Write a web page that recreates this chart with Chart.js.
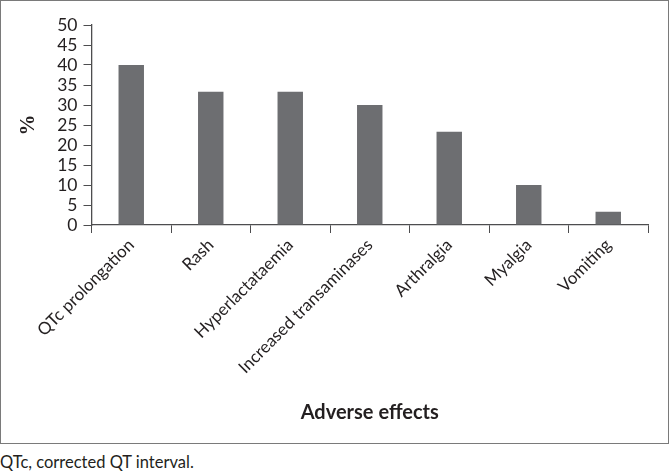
<!DOCTYPE html>
<html><head><meta charset="utf-8">
<script src="https://cdn.jsdelivr.net/npm/chart.js@4/dist/chart.umd.min.js"></script>
<style>
html,body{margin:0;padding:0;background:#fff;}
body{width:670px;height:472px;overflow:hidden;position:relative;}
#frame{position:absolute;left:0;top:0;width:667px;height:442px;border:1px solid #7a7a7a;}
#frame canvas{display:block;}
#note{position:absolute;left:0;top:452px;font:16.5px Lato, sans-serif;color:#231f20;white-space:nowrap;}
</style></head><body>
<div id="frame"><canvas id="c" width="667" height="442" style="width:667px;height:442px"></canvas></div>
<div id="note">QTc, corrected QT interval.</div>
<script>
const categories = ["QTc prolongation","Rash","Hyperlactataemia","Increased transaminases","Arthralgia","Myalgia","Vomiting"];
const percentages = [40, 33.3, 33.3, 30, 23.3, 10, 3.3];
const yTicks = [0,5,10,15,20,25,30,35,40,45,50];
const xTitle = "Adverse effects";
const yTitle = "%";

const ink = "#231f20";
const axisCol = "#4d4d4f";
new Chart(document.getElementById('c'), {
  type: 'bar',
  data: {
    labels: categories,
    datasets: [{
      data: percentages,
      backgroundColor: '#6d6e71',
      borderWidth: 0,
      barPercentage: 0.32,
      categoryPercentage: 1.0
    }]
  },
  options: {
    responsive: false,
    animation: false,
    devicePixelRatio: 1,
    layout: { padding: { left: 0, right: 20, top: 24, bottom: 0 } },
    plugins: { legend: { display: false }, tooltip: { enabled: false } },
    scales: {
      x: {
        offset: true,
        grid: { display: true, drawOnChartArea: false, drawTicks: true, tickLength: 8, offset: true, color: axisCol, lineWidth: 1 },
        border: { display: true, color: axisCol, width: 1.3 },
        ticks: { color: ink, font: { family: 'Lato', size: 17 }, minRotation: 45, maxRotation: 45, autoSkip: false, padding: 2 },
        title: { display: true, text: xTitle, color: ink, font: { family: 'Lato', size: 20, weight: 'bold' }, padding: { top: 0, bottom: 18 } },
        afterFit: s => { s.height = 218; }
      },
      y: {
        min: 0, max: 50,
        afterBuildTicks: s => { s.ticks = yTicks.map(v => ({ value: v })); },
        grid: { display: true, drawOnChartArea: false, drawTicks: true, tickLength: 8, color: axisCol, lineWidth: 1 },
        border: { display: true, color: axisCol, width: 1.3 },
        ticks: { color: ink, font: { family: 'Lato', size: 17.5 }, padding: 6, autoSkip: false },
        title: { display: true, text: yTitle, color: ink, font: { family: "'Liberation Serif', serif", size: 21, weight: 'bold' }, padding: { top: 15, bottom: 0 } },
        afterFit: s => { s.width = 90.5; }
      }
    }
  }
});
</script>
</body></html>
